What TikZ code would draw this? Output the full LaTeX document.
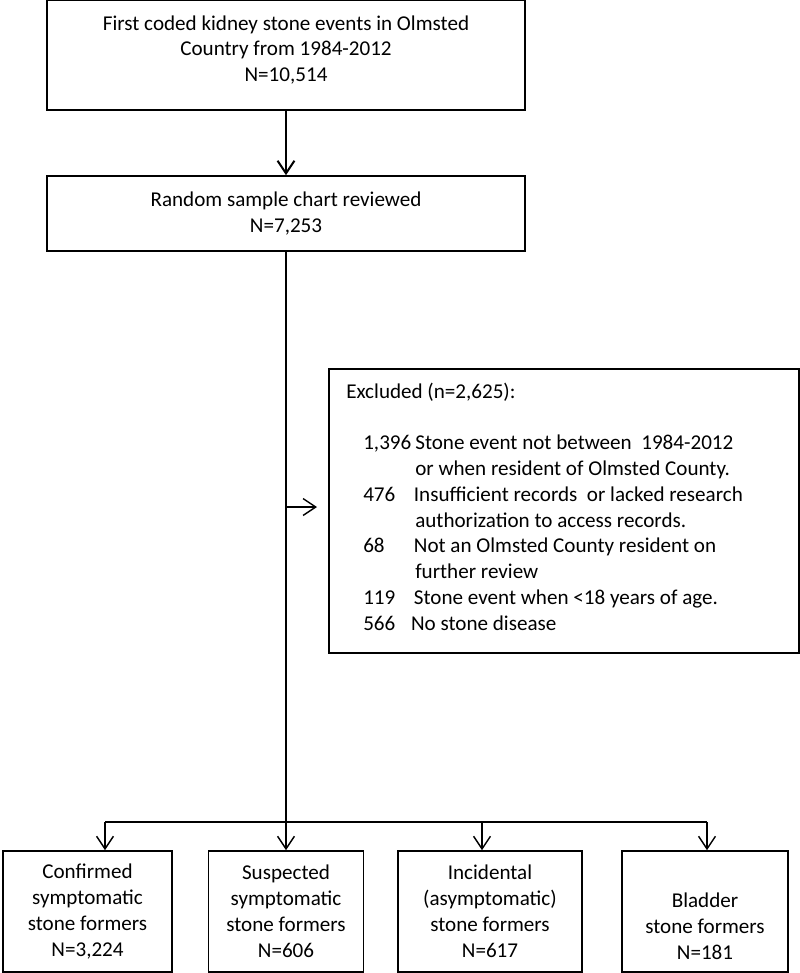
\documentclass[tikz,border=0pt]{standalone}
\usepackage{fontspec}
\setmainfont{Carlito}
\usetikzlibrary{arrows.meta}

\begin{document}
\begin{tikzpicture}[x=0.025cm, y=-0.025cm,
    font=\fontsize{15}{18.4}\selectfont,
    box/.style={draw, line width=1.2pt, align=center, inner sep=0pt},
    conn/.style={line width=1pt},
    arr/.style={line width=1pt, -{Straight Barb[length=9pt,width=12pt]}}]
    \useasboundingbox (0,0) rectangle (800,973);

    % top of the chart
    \node[box, minimum width=11.95cm, minimum height=2.75cm, text depth=9pt] (first) at (286,55)
        {First coded kidney stone events in Olmsted\\ Country from 1984-2012\\ N=10,514};
    \node[box, minimum width=11.95cm, minimum height=1.875cm] (sample) at (286,213.5)
        {Random sample chart reviewed\\ N=7,253};

    \draw[arr, line width=1.4pt] (first) -- (sample);

    % excluded records
    \node[box, minimum width=11.75cm, minimum height=7.1cm] (excl) at (564,511) {};
    \node[anchor=base west, inner sep=0pt] (excltitle) at (346,398) {Excluded (n=2,625):};
    \node[anchor=north west, inner sep=0pt] (exclist) at (363,431)
        {\begin{tabular}{@{}p{1.3cm}@{}l@{}}
            1,396 & Stone event not between\ \ 1984-2012\\
                  & or when resident of Olmsted County.\\
            476   & \hspace{-1pt}Insufficient records\ \ or lacked research\\
                  & authorization to access records.\\
            68    & \hspace{-1pt}Not an Olmsted County resident on\\
                  & further review\\
            119   & \hspace{-1pt}Stone event when <18 years of age.\\
            566   & \hspace{-3pt}No stone disease
        \end{tabular}};

    % stone former groups
    \node[box, minimum width=4.225cm, minimum height=3.025cm] (confirmed) at (87.5,911.5)
        {Confirmed\\ symptomatic\\ stone formers\\ N=3,224};
    \node[box, minimum width=3.875cm, minimum height=3.025cm] (suspected) at (286,911.5)
        {Suspected\\ symptomatic\\ stone formers\\ N=606};
    \node[box, minimum width=4.6cm, minimum height=3.025cm] (incidental) at (490,911.5)
        {Incidental\\ (asymptomatic)\\ stone formers\\ N=617};
    \node[box, minimum width=4.15cm, minimum height=3.025cm] (bladder) at (705,911.5)
        {\strut\\ Bladder\\ stone formers\\ N=181};

    \coordinate (branch) at (286,507);
    \coordinate (branchend) at (317,507);
    \coordinate (splitA) at (105,822);
    \coordinate (splitC) at (482,822);
    \coordinate (splitD) at (707,822);

    \draw[conn] (sample) -- (branch);
    \draw[arr] (branch) -- (branchend);
    \draw[arr] (branch) -- (suspected);
    \draw[conn] (splitA) -- (splitD);
    \draw[arr] (splitA) -- (splitA |- confirmed.north);
    \draw[arr] (splitC) -- (splitC |- incidental.north);
    \draw[arr] (splitD) -- (splitD |- bladder.north);
\end{tikzpicture}
\end{document}
